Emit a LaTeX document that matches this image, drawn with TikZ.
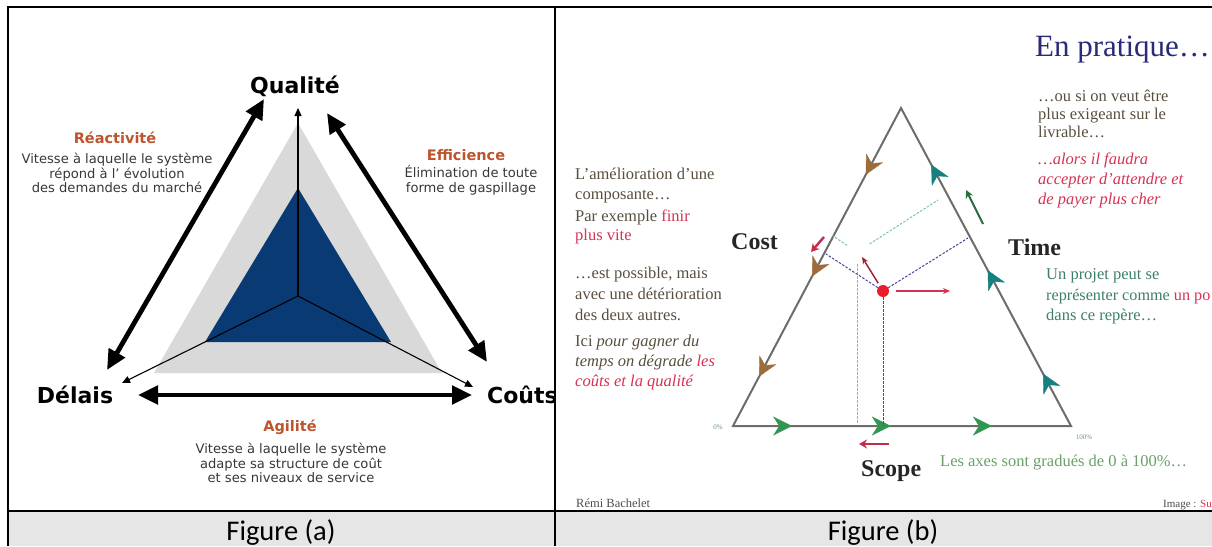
\documentclass[tikz,border=0pt]{standalone}
\usepackage{fontspec}
\setmainfont{Liberation Serif}
\newfontfamily\vsans{DejaVu Sans}
\newfontfamily\capfont{Carlito}
\usetikzlibrary{arrows.meta,decorations.markings}

\definecolor{navyfill}{RGB}{10,58,116}
\definecolor{paleband}{RGB}{217,217,217}
\definecolor{rust}{RGB}{190,84,45}
\definecolor{bodygray}{RGB}{55,55,55}
\definecolor{slidetext}{RGB}{88,78,62}
\definecolor{slidered}{RGB}{212,50,82}
\definecolor{titleblue}{RGB}{42,42,122}
\definecolor{axisgray}{RGB}{108,108,108}
\definecolor{costbrown}{RGB}{158,108,60}
\definecolor{timeteal}{RGB}{22,128,128}
\definecolor{scopegreen}{RGB}{50,150,82}
\definecolor{projblue}{RGB}{70,70,160}
\definecolor{oldgreen}{RGB}{120,200,160}
\definecolor{notegreen}{RGB}{105,160,105}
\definecolor{tealtext}{RGB}{60,128,105}
\definecolor{captionbg}{RGB}{231,230,230}
\definecolor{arrowgreen}{RGB}{45,110,62}
\definecolor{dotred}{RGB}{232,30,40}

\begin{document}
\begin{tikzpicture}[x=1pt,y=-1pt,
  heavyarrow/.style={line width=4.8pt,
    {Triangle[length=20pt,width=18pt]}-{Triangle[length=20pt,width=18pt]}},
  hubarrow/.style={line width=1.1pt,-{Triangle[length=8pt,width=7pt]}},
  vertexlabel/.style={font=\vsans\bfseries\fontsize{22}{26}\selectfont,inner sep=0pt},
  headline/.style={font=\vsans\bfseries\fontsize{14.5}{17}\selectfont,text=rust,inner sep=0pt},
  blurb/.style={font=\vsans\fontsize{13.1}{14.8}\selectfont,text=bodygray,align=center,inner sep=0pt},
  slideline/.style={font=\fontsize{16.5}{20}\selectfont,text=slidetext,anchor=base west,inner sep=0pt},
  axisname/.style={font=\bfseries\fontsize{24}{28}\selectfont,text=black!85,anchor=base west,inner sep=0pt},
  axisline/.style={draw=axisgray,line width=2pt,line join=miter},
  projline/.style={projblue,line width=1pt,dash pattern=on 2.5pt off 1.5pt},
  oldline/.style={oldgreen,line width=1pt,dash pattern=on 2.5pt off 1.5pt},
  pushred/.style={slidered!90!black,line width=2.4pt,-{Stealth[length=8pt,width=9pt]}},
  tinynote/.style={font=\fontsize{7}{8}\selectfont,text=notegreen!70!gray,inner sep=0pt},
  costtip/.style={},
]
\useasboundingbox (0,0) rectangle (1212,546);

% ---------- caption row ----------
\fill[captionbg] (8,511) rectangle (1212,546);
\node[font=\capfont\fontsize{28.5}{31}\selectfont,anchor=base,inner sep=0pt] (capA) at (281,540) {Figure (a)};
\node[font=\capfont\fontsize{28.5}{31}\selectfont,anchor=base,inner sep=0pt] (capB) at (883,540) {Figure (b)};

% ---------- Figure (a): quality / cost / delay triangle ----------
\begin{scope}
\clip (8,7) rectangle (555,511);
\fill[paleband] (298,123) -- (442,373) -- (154,373) -- cycle;
\fill[navyfill] (298,188) -- (391,342) -- (205,342) -- cycle;

\coordinate (hub) at (298,296);
\coordinate (qtip) at (298,108);
\coordinate (dtip) at (122,383);
\coordinate (ctip) at (473,387);
\draw[hubarrow] (hub) -- (qtip);
\draw[hubarrow] (hub) -- (dtip);
\draw[hubarrow] (hub) -- (ctip);

\node[vertexlabel] (qual) at (295,86) {Qualité};
\node[vertexlabel] (delais) at (75,395) {Délais};
\node[vertexlabel,anchor=west] (couts) at (487,395) {Coûts};

\coordinate (reacLow) at (107,370);
\coordinate (reacHigh) at (264,99);
\coordinate (effHigh) at (327,113);
\coordinate (effLow) at (487,362);
\coordinate (agiLeft) at (138,395);
\coordinate (agiRight) at (472,395);
\draw[heavyarrow] (reacLow) -- (reacHigh);
\draw[heavyarrow] (effHigh) -- (effLow);
\draw[heavyarrow] (agiLeft) -- (agiRight);

\node[headline] (reac) at (115,138) {Réactivité};
\node[blurb] (reacTxt) at (117,173) {Vitesse à laquelle le système\\répond à l’ évolution\\des demandes du marché};
\node[headline] (eff) at (466,155) {Efficience};
\node[blurb] (effTxt) at (471,180) {Élimination de toute\\forme de gaspillage};
\node[headline] (agi) at (290,427) {Agilité};
\node[blurb] (agiTxt) at (291,463) {Vitesse à laquelle le système\\adapte sa structure de coût\\et ses niveaux de service};
\end{scope}

% ---------- Figure (b): cost / time / scope triangle ----------
\begin{scope}
\clip (555,7) rectangle (1212,511);
\node[font=\fontsize{31}{35}\selectfont,text=titleblue,anchor=base west,inner sep=0pt] (title) at (1035,56) {En pratique…};

% left column
\node[slideline] (l1) at (575,179) {L'amélioration d'une};
\node[slideline] (l2) at (575,199) {composante…};
\node[slideline] (l3) at (575,221) {Par exemple {\color{slidered}finir}};
\node[slideline,text=slidered] (l4) at (575,240) {plus vite};
\node[slideline] (l5) at (575,278) {…est possible, mais};
\node[slideline] (l6) at (575,299) {avec une détérioration};
\node[slideline] (l7) at (575,320) {des deux autres.};
\node[slideline] (l8) at (575,346) {Ici \textit{pour gagner du}};
\node[slideline] (l9) at (575,366) {\itshape temps on dégrade {\color{slidered}les}};
\node[slideline,text=slidered] (l10) at (575,386) {\itshape coûts et la qualité};

% right column
\node[slideline] (r1) at (1038,101) {…ou si on veut être};
\node[slideline] (r2) at (1038,119) {plus exigeant sur le};
\node[slideline] (r3) at (1038,137) {livrable…};
\node[slideline,text=slidered] (r4) at (1038,164) {\itshape …alors il faudra};
\node[slideline,text=slidered] (r5) at (1038,184) {\itshape accepter d'attendre et};
\node[slideline,text=slidered] (r6) at (1038,204) {\itshape de payer plus cher};
\node[slideline,text=tealtext] (u1) at (1046,279) {Un projet peut se};
\node[slideline,text=tealtext,font=\fontsize{16.2}{20}\selectfont] (u2) at (1046,300) {représenter comme {\color{slidered}un po}};
\node[slideline,text=tealtext] (u3) at (1046,320) {dans ce repère…};

% axis names
\node[axisname] (cost) at (731,249) {Cost};
\node[axisname] (time) at (1008,255) {Time};
\node[axisname] (scope) at (861,476) {Scope};

% triangle and its graduated directions
\coordinate (apex) at (901,108);
\coordinate (bl) at (733,426);
\coordinate (br) at (1071,426);
\draw[axisline] (apex) -- (bl) -- (br) -- cycle;
\path[decorate,decoration={markings,
  mark=at position 0.21 with {\arrow{Stealth[length=19pt,width=19pt,inset=6pt,color=costbrown]}},
  mark=at position 0.53 with {\arrow{Stealth[length=19pt,width=19pt,inset=6pt,color=costbrown]}},
  mark=at position 0.845 with {\arrow{Stealth[length=19pt,width=19pt,inset=6pt,color=costbrown]}}}]
  (apex) -- (bl);
\path[decorate,decoration={markings,
  mark=at position 0.165 with {\arrow{Stealth[length=19pt,width=19pt,inset=6pt,color=timeteal]}},
  mark=at position 0.49 with {\arrow{Stealth[length=19pt,width=19pt,inset=6pt,color=timeteal]}},
  mark=at position 0.822 with {\arrow{Stealth[length=19pt,width=19pt,inset=6pt,color=timeteal]}}}]
  (br) -- (apex);
\path[decorate,decoration={markings,
  mark=at position 0.175 with {\arrow{Stealth[length=19pt,width=19pt,inset=6pt,color=scopegreen]}},
  mark=at position 0.467 with {\arrow{Stealth[length=19pt,width=19pt,inset=6pt,color=scopegreen]}},
  mark=at position 0.766 with {\arrow{Stealth[length=19pt,width=19pt,inset=6pt,color=scopegreen]}}}]
  (bl) -- (br);

\node[tinynote] (zero) at (718,427) {0\%};
\node[tinynote] (hundred) at (1084,437) {100\%};
\node[font=\fontsize{16.5}{20}\selectfont,text=notegreen,anchor=base west,inner sep=0pt] (axesnote) at (940,466) {Les axes sont gradués de 0 à 100\%…};

% earlier position of the project and its projections
\coordinate (oldpt) at (857,252);
\coordinate (oldscope) at (857,424);
\coordinate (oldtime) at (938,200);
\coordinate (oldcost) at (833,236);
\draw[oldline,shorten <=12pt] (oldpt) -- (oldscope);
\draw[oldline,shorten <=15pt] (oldpt) -- (oldtime);
\draw[oldline,shorten <=12pt] (oldpt) -- (oldcost);

% current project point and its projections
\node[circle,fill=dotred,minimum size=12pt,inner sep=0pt] (pt) at (883,291) {};
\coordinate (costfoot) at (826,254);
\coordinate (timefoot) at (968,238);
\coordinate (scopefoot) at (883,426);
\draw[projline] (pt) -- (costfoot);
\draw[projline] (pt) -- (timefoot);
\draw[projline] (pt) -- (scopefoot);

\coordinate (timegain) at (950,291);
\coordinate (qualup) at (862,257);
\draw[slidered,line width=1.5pt,shorten <=7pt,-{Stealth[length=7pt,width=6pt]}] (pt) -- (timegain);
\draw[slidered!75!black,line width=1.5pt,shorten <=3pt,-{Stealth[length=7pt,width=6pt]}] (pt) -- (qualup);

\coordinate (costA) at (824,237);
\coordinate (costB) at (811,252);
\coordinate (scopeA) at (889,444);
\coordinate (scopeB) at (859,444);
\draw[pushred] (costA) -- (costB);
\draw[pushred] (scopeA) -- (scopeB);
\coordinate (gA) at (983,224);
\coordinate (gB) at (966,190);
\draw[arrowgreen,line width=2pt,-{Stealth[length=8pt,width=8pt]}] (gA) -- (gB);

% credits
\node[font=\fontsize{12.5}{14}\selectfont,text=black!70,anchor=base west,inner sep=0pt] (author) at (576,507) {Rémi Bachelet};
\node[font=\fontsize{11}{13}\selectfont,text=black!70,anchor=base west,inner sep=0pt] (credit) at (1163,507) {Image : {\color{slidered}Su}};
\end{scope}

% ---------- table rules ----------
\draw[line width=2.6pt] (6.7,7) -- (1212,7);
\draw[line width=2.6pt] (8,7) -- (8,546);
\draw[line width=1.6pt] (555,7) -- (555,546);
\draw[line width=2.4pt] (8,511) -- (555,511);
\draw[line width=1.3pt] (555,511) -- (1212,511);
\end{tikzpicture}
\end{document}
